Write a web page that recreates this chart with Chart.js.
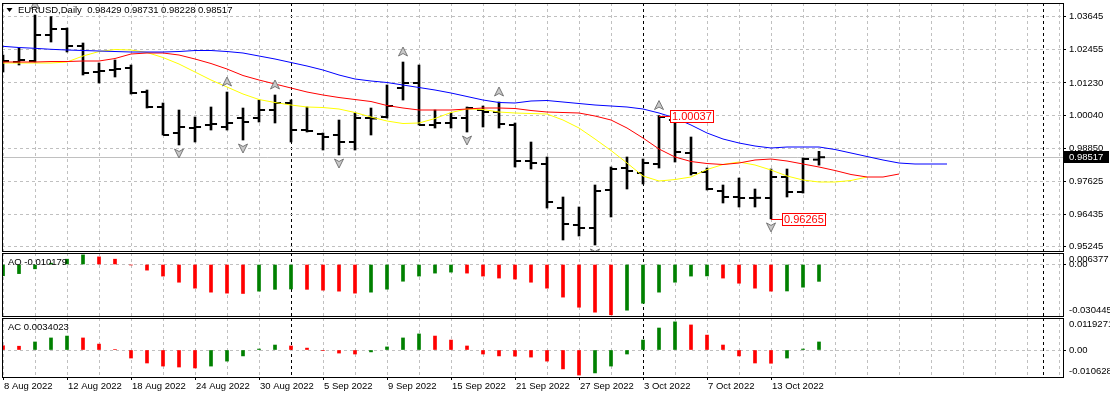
<!DOCTYPE html>
<html>
<head>
<meta charset="utf-8">
<script src="https://cdn.jsdelivr.net/npm/chart.js@4.4.0/dist/chart.umd.min.js"></script>
<style>
  html, body { margin: 0; padding: 0; background: #fff; }
  #wrap { position: relative; width: 1110px; height: 398px; overflow: hidden; }
  .panel { position: absolute; left: 0; width: 1110px; }
</style>
</head>
<body>
<div id="wrap">
  <div class="panel" style="top:0;height:252px"><canvas id="priceChart"></canvas></div>
  <div class="panel" style="top:252px;height:66px"><canvas id="aoChart"></canvas></div>
  <div class="panel" style="top:317px;height:81px"><canvas id="acChart"></canvas></div>
</div>
<script>
// EURUSD daily bars, 8 Aug 2022 .. 18 Oct 2022 (index 0 = 8 Aug)
const symbol = 'EURUSD,Daily';

const opens = [1.01919, 1.01992, 1.02029, 1.02978, 1.03197, 1.02576, 1.01627, 1.01700, 1.01773, 1.00897,
  1.00350, 0.99401, 0.99583, 0.99693, 0.99620, 0.99948, 0.99948, 1.00240, 1.00496, 0.99510,
  0.99364, 0.99328, 0.99072, 0.99948, 0.99985, 1.01043, 1.01226, 0.99693, 0.99766, 0.99948,
  1.00240, 1.00167, 0.99693, 0.98379, 0.98269, 0.96663, 0.96043, 0.95933, 0.97320, 0.98123,
  0.97941, 0.98269, 0.99875, 0.98671, 0.97977, 0.97284, 0.97065, 0.97028, 0.97028, 0.97795,
  0.97247, 0.98429];
const highs = [1.02248, 1.02503, 1.03708, 1.03650, 1.03233, 1.02686, 1.01956, 1.02065, 1.01883, 1.00970,
  1.00496, 1.00240, 0.99985, 1.00350, 1.00897, 1.00313, 1.00605, 1.00788, 1.00605, 1.00350,
  0.99401, 0.99875, 1.00131, 1.00313, 1.01153, 1.01992, 1.01883, 1.00240, 1.00131, 1.00350,
  1.00386, 1.00532, 0.99766, 0.99072, 0.98525, 0.97065, 0.96700, 0.97503, 0.98160, 0.98525,
  0.98452, 1.00037, 0.99948, 0.99255, 0.98123, 0.97503, 0.97758, 0.97357, 0.98087, 0.98087,
  0.98488, 0.98731];
const lows = [1.01627, 1.01883, 1.01992, 1.02722, 1.02357, 1.01518, 1.01226, 1.01445, 1.00824, 1.00313,
  0.99328, 0.98963, 0.99072, 0.99510, 0.99510, 0.99145, 0.99802, 0.99766, 0.99072, 0.99437,
  0.98780, 0.98598, 0.98780, 0.99328, 0.99948, 1.00605, 0.99693, 0.99583, 0.99583, 0.99437,
  0.99620, 0.99583, 0.98160, 0.98087, 0.96663, 0.95495, 0.95641, 0.95313, 0.96335, 0.97357,
  0.97539, 0.98123, 0.98342, 0.97868, 0.97320, 0.96846, 0.96700, 0.96700, 0.96265, 0.97065,
  0.97210, 0.98228];
const closes = [1.02029, 1.02065, 1.02978, 1.03197, 1.02576, 1.01591, 1.01664, 1.01737, 1.00861, 1.00350,
  0.99328, 0.99620, 0.99620, 0.99729, 0.99766, 0.99802, 1.00240, 1.00496, 0.99510, 0.99474,
  0.99255, 0.99072, 0.99948, 0.99930, 1.00386, 1.01226, 0.99693, 0.99766, 0.99948, 1.00313,
  1.00167, 0.99729, 0.98379, 0.98306, 0.96882, 0.96079, 0.95933, 0.97284, 0.98087, 0.98014,
  0.98306, 0.99985, 0.98707, 0.97941, 0.97357, 0.97065, 0.97028, 0.97035, 0.97795, 0.97247,
  0.98452, 0.98517];

// Alligator lines (shifted forward past the last bar)
const jaw = [1.02565, 1.02521, 1.02492, 1.02456, 1.02430, 1.02412, 1.02394, 1.02375, 1.02357, 1.02357,
  1.02357, 1.02375, 1.02412, 1.02412, 1.02375, 1.02321, 1.02211, 1.02102, 1.01974, 1.01846,
  1.01700, 1.01518, 1.01372, 1.01299, 1.01244, 1.01153, 1.01061, 1.00970, 1.00861, 1.00733,
  1.00605, 1.00514, 1.00496, 1.00569, 1.00587, 1.00532, 1.00477, 1.00423, 1.00386, 1.00350,
  1.00277, 1.00131, 0.99948, 0.99693, 0.99401, 0.99182, 0.99036, 0.98926, 0.98853, 0.98890,
  0.98890, 0.98890, 0.98798, 0.98671, 0.98543, 0.98415, 0.98306, 0.98269, 0.98269, 0.98269];
const teeth = [1.01992, 1.01992, 1.01992, 1.02010, 1.02010, 1.02029, 1.02029, 1.02120, 1.02284, 1.02321,
  1.02321, 1.02248, 1.02102, 1.01937, 1.01737, 1.01499, 1.01335, 1.01189, 1.01043, 1.00897,
  1.00788, 1.00696, 1.00623, 1.00550, 1.00404, 1.00313, 1.00240, 1.00240, 1.00240, 1.00277,
  1.00313, 1.00313, 1.00295, 1.00222, 1.00167, 1.00149, 1.00131, 1.00021, 0.99875, 0.99583,
  0.99218, 0.98817, 0.98525, 0.98360, 0.98287, 0.98251, 0.98306, 0.98415, 0.98452, 0.98379,
  0.98269, 0.98160, 0.98032, 0.97886, 0.97795, 0.97795, 0.97904];
const lips = [1.01956, 1.01956, 1.01956, 1.01956, 1.01992, 1.02211, 1.02375, 1.02448, 1.02430, 1.02339,
  1.02156, 1.01919, 1.01627, 1.01335, 1.01080, 1.00824, 1.00623, 1.00514, 1.00423, 1.00350,
  1.00331, 1.00277, 1.00149, 0.99985, 0.99839, 0.99747, 0.99766, 0.99930, 1.00149, 1.00277,
  1.00258, 1.00167, 1.00131, 1.00112, 1.00094, 0.99875, 0.99583, 0.99182, 0.98762, 0.98306,
  0.97831, 0.97649, 0.97703, 0.97795, 0.98068, 0.98251, 0.98342, 0.98233, 0.98050, 0.97831,
  0.97685, 0.97612, 0.97612, 0.97667, 0.97795];

const ao = [-0.0068, -0.0055, -0.0026, 0.0008, 0.0032, 0.0058, 0.0046, 0.0032, -0.0003, -0.0034,
  -0.0070, -0.0107, -0.0143, -0.0167, -0.0173, -0.0175, -0.0161, -0.0150, -0.0148, -0.0150,
  -0.0155, -0.0161, -0.0173, -0.0167, -0.0149, -0.0101, -0.0070, -0.0052, -0.0046, -0.0052,
  -0.0070, -0.0082, -0.0088, -0.0107, -0.0143, -0.0197, -0.0258, -0.0288, -0.0304, -0.0276,
  -0.0234, -0.0167, -0.0107, -0.0070, -0.0069, -0.0082, -0.0113, -0.0143, -0.0161, -0.0160,
  -0.0137, -0.010179];
const ac = [0.0018, 0.0016, 0.0034, 0.0051, 0.0059, 0.0051, 0.0025, 0.0002, -0.0034, -0.0055,
  -0.0068, -0.0072, -0.0076, -0.0068, -0.0047, -0.0025, 0.0004, 0.0021, 0.0017, 0.0008,
  -0.0002, -0.0013, -0.0017, -0.0008, 0.0013, 0.0051, 0.0068, 0.0059, 0.0042, 0.0017,
  -0.0017, -0.0025, -0.0026, -0.0030, -0.0047, -0.0080, -0.0106, -0.0097, -0.0068, -0.0017,
  0.0042, 0.0093, 0.0119, 0.0106, 0.0063, 0.0021, -0.0025, -0.0055, -0.0056, -0.0034,
  0.0004, 0.0034023];

const dateLabels = ['8 Aug 2022', '12 Aug 2022', '18 Aug 2022', '24 Aug 2022', '30 Aug 2022', '5 Sep 2022',
  '9 Sep 2022', '15 Sep 2022', '21 Sep 2022', '27 Sep 2022', '3 Oct 2022', '7 Oct 2022', '13 Oct 2022'];
const priceTicks = [1.03645, 1.02455, 1.01230, 1.00040, 0.98850, 0.97625, 0.96435, 0.95245];
const aoScaleLabels = ['0.006377', '-0.030445'];
const acScaleLabels = ['0.0119271', '-0.010628'];

const fractalUp = [2, 14, 17, 25, 31, 41];
const fractalDown = [11, 15, 21, 29, 37, 48];
const markHigh = 41;
const markLow = 48;
const separators = [18, 40, 65];

const last = closes.length - 1;
const GREEN = '#008000';
const RED = '#ff0000';
const GRID = '#c0c0c0';
const FONT = '"Liberation Sans", Arial, sans-serif';

Chart.defaults.font.family = FONT;
Chart.defaults.font.size = 9.5;
Chart.defaults.color = '#000';

const gridTicks = Array.from({ length: 34 }, (_, k) => 2 * k).concat([65]).sort((a, b) => a - b);

function barColors(values, first) {
  return values.map((v, i) => i === 0 ? first : (v > values[i - 1] ? GREEN : RED));
}

function xScale(showLabels) {
  return {
    type: 'linear',
    min: -0.0625,
    max: 66.25,
    offset: false,
    afterBuildTicks: s => { s.ticks = gridTicks.map(v => ({ value: v })); },
    afterFit: s => {
      s.height = showLabels ? 21 : 0;
      s.paddingLeft = 0;
      s.paddingRight = 0;
    },
    ticks: {
      display: showLabels,
      autoSkip: false,
      maxRotation: 0,
      minRotation: 0,
      align: 'start',
      labelOffset: 1,
      padding: 1,
      callback: v => (v % 4 === 0 && v / 4 < dateLabels.length) ? dateLabels[v / 4] : ''
    },
    grid: {
      offset: false,
      color: c => separators.includes(c.tick.value) ? '#000' : GRID,
      drawTicks: showLabels,
      tickLength: 3,
      tickColor: c => (c.tick.value % 4 === 0 && c.tick.value / 4 < dateLabels.length) ? '#000' : 'rgba(0,0,0,0)'
    },
    border: { display: false, dash: [3, 3] }
  };
}

function yScale(min, max, tickValues, fmt) {
  return {
    position: 'right',
    min: min,
    max: max,
    afterBuildTicks: s => { s.ticks = tickValues.map(v => ({ value: v })); },
    afterFit: s => {
      s.width = 47;
      s.paddingTop = 0;
      s.paddingBottom = 0;
    },
    ticks: { padding: 3, callback: fmt },
    grid: { color: GRID, tickColor: '#000', tickLength: 3 },
    border: { display: false, dash: [3, 3] }
  };
}

const baseOptions = {
  responsive: true,
  maintainAspectRatio: false,
  animation: false,
  events: [],
  plugins: { legend: { display: false }, tooltip: { enabled: false } }
};

// black frame round each panel
const frame = {
  id: 'frame',
  afterDraw(chart) {
    const { ctx, chartArea: a } = chart;
    ctx.save();
    ctx.strokeStyle = '#000';
    ctx.lineWidth = 1;
    ctx.strokeRect(a.left + 0.5, a.top + 0.5, a.right - a.left, a.bottom - a.top);
    ctx.restore();
  }
};

function drawArrow(ctx, x, y, up) {
  const d = up ? 1 : -1;
  ctx.beginPath();
  ctx.moveTo(x, y - 5 * d);
  ctx.lineTo(x + 4.5, y + 4 * d);
  ctx.lineTo(x, y + 1.5 * d);
  ctx.lineTo(x - 4.5, y + 4 * d);
  ctx.closePath();
  ctx.fillStyle = '#c8c8c8';
  ctx.fill();
  ctx.strokeStyle = '#777';
  ctx.lineWidth = 1;
  ctx.stroke();
}

function drawMark(ctx, x, y, text) {
  ctx.save();
  ctx.font = '11px ' + FONT;
  const w = Math.ceil(ctx.measureText(text).width) + 4;
  const yy = Math.round(y);
  const bx = Math.round(x) + 11;
  ctx.strokeStyle = RED;
  ctx.lineWidth = 1;
  ctx.beginPath();
  ctx.moveTo(x, yy + 0.5);
  ctx.lineTo(bx, yy + 0.5);
  ctx.stroke();
  ctx.fillStyle = '#fff';
  ctx.fillRect(bx, yy - 6, w, 13);
  ctx.strokeRect(bx + 0.5, yy - 5.5, w - 1, 12);
  ctx.fillStyle = RED;
  ctx.textBaseline = 'middle';
  ctx.textAlign = 'left';
  ctx.fillText(text, bx + 2, yy + 1);
  ctx.restore();
}

const priceOverlay = {
  id: 'priceOverlay',
  beforeDatasetsDraw(chart) {
    const { ctx, chartArea: a, scales: { y } } = chart;
    const py = Math.round(y.getPixelForValue(closes[last])) + 0.5;
    ctx.save();
    ctx.strokeStyle = GRID;
    ctx.lineWidth = 1;
    ctx.beginPath();
    ctx.moveTo(a.left, py);
    ctx.lineTo(a.right, py);
    ctx.stroke();
    ctx.restore();
  },
  afterDatasetsDraw(chart) {
    const { ctx, chartArea: a, scales: { x, y } } = chart;
    ctx.save();
    ctx.beginPath();
    ctx.rect(a.left, a.top, a.right - a.left, a.bottom - a.top);
    ctx.clip();
    fractalUp.forEach(i => drawArrow(ctx, x.getPixelForValue(i), y.getPixelForValue(highs[i]) - 10, true));
    fractalDown.forEach(i => drawArrow(ctx, x.getPixelForValue(i), y.getPixelForValue(lows[i]) + 8, false));
    drawMark(ctx, x.getPixelForValue(markHigh), y.getPixelForValue(highs[markHigh]), highs[markHigh].toFixed(5));
    drawMark(ctx, x.getPixelForValue(markLow), y.getPixelForValue(lows[markLow]), lows[markLow].toFixed(5));
    ctx.restore();
  },
  afterDraw(chart) {
    const { ctx, chartArea: a, scales: { y } } = chart;
    ctx.save();
    // header
    ctx.fillStyle = '#000';
    ctx.beginPath();
    ctx.moveTo(6.5, 8);
    ctx.lineTo(12.5, 8);
    ctx.lineTo(9.5, 12);
    ctx.closePath();
    ctx.fill();
    ctx.font = '9.5px ' + FONT;
    ctx.textBaseline = 'middle';
    ctx.textAlign = 'left';
    const n = last;
    ctx.fillText(symbol + '  ' + [opens[n], highs[n], lows[n], closes[n]].map(v => v.toFixed(5)).join(' '), 18, a.top + 7.5);
    // current price box
    const py = Math.round(y.getPixelForValue(closes[last]));
    ctx.fillRect(a.right + 1, py - 6, 45, 12);
    ctx.fillStyle = '#fff';
    ctx.fillText(closes[last].toFixed(5), a.right + 6, py + 0.5);
    ctx.restore();
  }
};

function panelText(title, scaleLabels) {
  return {
    id: 'panelText',
    afterDraw(chart) {
      const { ctx, chartArea: a } = chart;
      ctx.save();
      ctx.fillStyle = '#000';
      ctx.font = '9.5px ' + FONT;
      ctx.textBaseline = 'middle';
      ctx.textAlign = 'left';
      ctx.fillText(title, 8, a.top + 9);
      ctx.fillText(scaleLabels[0], a.right + 6, a.top + 6.5);
      ctx.fillText(scaleLabels[1], a.right + 6, a.bottom - 6);
      ctx.restore();
    }
  };
}

// Price panel
new Chart(document.getElementById('priceChart'), {
  type: 'scatter',
  data: {
    datasets: [{
      type: 'line', label: 'Jaw', order: 0,
      data: jaw.map((v, i) => ({ x: i, y: v })),
      borderColor: '#0000ff', borderWidth: 1, pointRadius: 0
    }, {
      type: 'line', label: 'Teeth', order: 0,
      data: teeth.map((v, i) => ({ x: i, y: v })),
      borderColor: '#ff0000', borderWidth: 1, pointRadius: 0
    }, {
      type: 'line', label: 'Lips', order: 0,
      data: lips.map((v, i) => ({ x: i, y: v })),
      borderColor: '#ffff00', borderWidth: 1, pointRadius: 0
    }, {
      type: 'bar', label: 'High-Low', order: 1,
      data: lows.map((l, i) => ({ x: i, y: [l, highs[i]] })),
      backgroundColor: '#000', borderWidth: 0, barThickness: 2
    }, {
      type: 'scatter', label: 'Open', order: 1,
      data: opens.map((o, i) => ({ x: i - 0.19, y: o })),
      pointStyle: 'line', pointRadius: 3, pointBorderWidth: 2, pointBorderColor: '#000'
    }, {
      type: 'scatter', label: 'Close', order: 1,
      data: closes.map((c, i) => ({ x: i + 0.19, y: c })),
      pointStyle: 'line', pointRadius: 3, pointBorderWidth: 2, pointBorderColor: '#000'
    }]
  },
  options: {
    ...baseOptions,
    layout: { autoPadding: false, padding: { left: 2, top: 3, right: 0, bottom: 1 } },
    scales: {
      x: xScale(false),
      y: yScale(0.95094, 1.04146, priceTicks, v => v.toFixed(5))
    }
  },
  plugins: [frame, priceOverlay]
});

// Awesome Oscillator
new Chart(document.getElementById('aoChart'), {
  type: 'bar',
  data: {
    datasets: [{
      label: 'AO',
      data: ao.map((v, i) => ({ x: i, y: v })),
      backgroundColor: barColors(ao, GREEN),
      borderWidth: 0, barThickness: 3
    }]
  },
  options: {
    ...baseOptions,
    layout: { autoPadding: false, padding: { left: 2, top: 1, right: 0, bottom: 2 } },
    scales: {
      x: xScale(false),
      y: yScale(-0.031106, 0.006946, [0], () => '0.00')
    }
  },
  plugins: [frame, panelText('AO ' + ao[last], aoScaleLabels)]
});

// Accelerator Oscillator
new Chart(document.getElementById('acChart'), {
  type: 'bar',
  data: {
    datasets: [{
      label: 'AC',
      data: ac.map((v, i) => ({ x: i, y: v })),
      backgroundColor: barColors(ac, RED),
      borderWidth: 0, barThickness: 3
    }]
  },
  options: {
    ...baseOptions,
    layout: { autoPadding: false, padding: { left: 2, top: 1, right: 0, bottom: 0 } },
    scales: {
      x: xScale(true),
      y: yScale(-0.011421, 0.013536, [0], () => '0.00')
    }
  },
  plugins: [frame, panelText('AC ' + ac[last], acScaleLabels)]
});
</script>
</body>
</html>
